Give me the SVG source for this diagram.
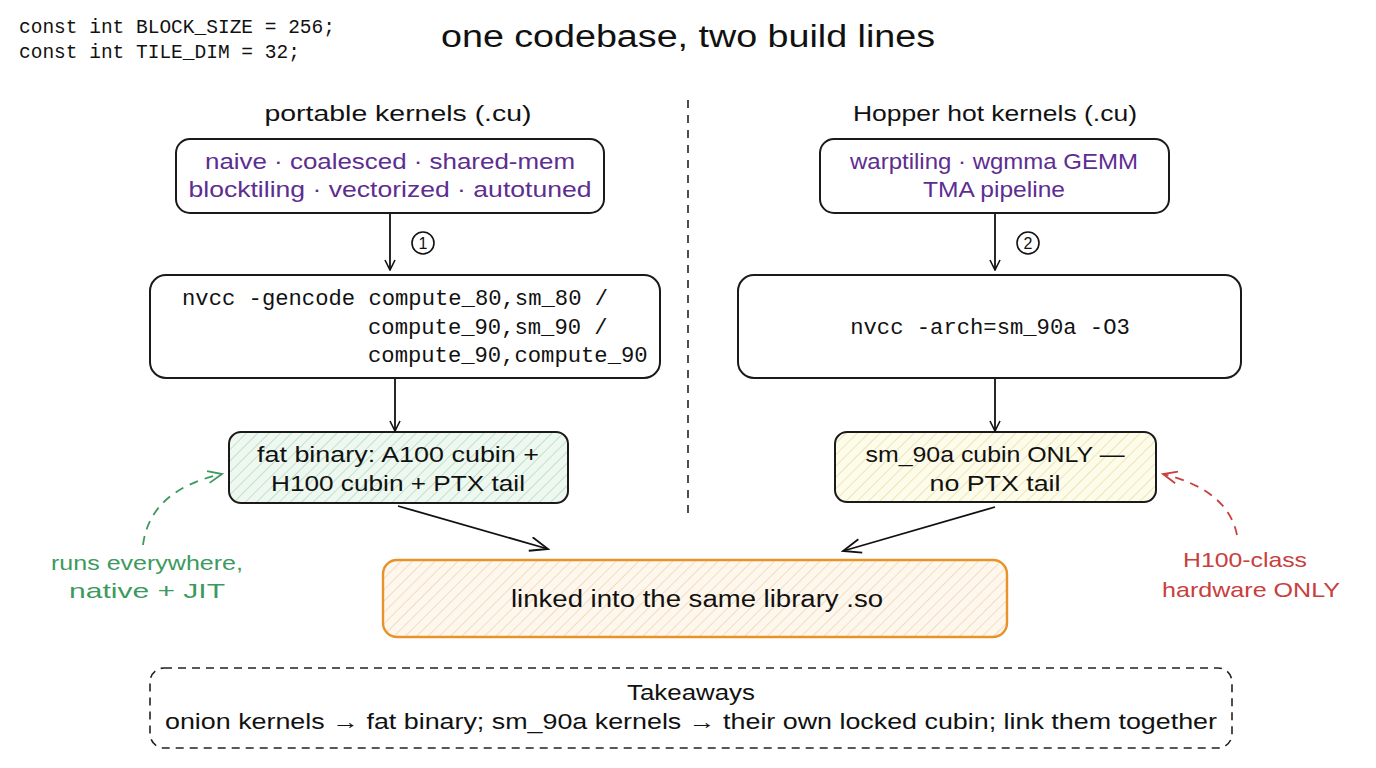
<svg xmlns="http://www.w3.org/2000/svg" width="1376" height="768" viewBox="0 0 1376 768">
<defs>
<pattern id="hGreen" patternUnits="userSpaceOnUse" width="8" height="8" patternTransform="rotate(45)">
<rect width="8" height="8" fill="#eef8f0"/><line x1="0" y1="0" x2="0" y2="8" stroke="#bfe3c8" stroke-width="2"/>
</pattern>
<pattern id="hYellow" patternUnits="userSpaceOnUse" width="8" height="8" patternTransform="rotate(45)">
<rect width="8" height="8" fill="#fdfbea"/><line x1="0" y1="0" x2="0" y2="8" stroke="#efe5b5" stroke-width="2"/>
</pattern>
<pattern id="hOrange" patternUnits="userSpaceOnUse" width="8" height="8" patternTransform="rotate(45)">
<rect width="8" height="8" fill="#fef7ee"/><line x1="0" y1="0" x2="0" y2="8" stroke="#f6dcbc" stroke-width="2"/>
</pattern>
<marker id="arr" viewBox="0 0 12 12" refX="11" refY="6" markerWidth="12" markerHeight="12" markerUnits="userSpaceOnUse" orient="auto">
<path d="M1,1 L11,6 L1,11" fill="none" stroke="#111" stroke-width="1.6"/>
</marker>
<marker id="arrW" viewBox="0 0 20 16" refX="19" refY="8" markerWidth="22" markerHeight="16" markerUnits="userSpaceOnUse" orient="auto">
<path d="M1,1 L19,8 L1,15" fill="none" stroke="#111" stroke-width="1.8"/>
</marker>
<marker id="arrG" viewBox="0 0 16 14" refX="15" refY="7" markerWidth="18" markerHeight="14" markerUnits="userSpaceOnUse" orient="auto">
<path d="M1,1 L15,7 L1,13" fill="none" stroke="#3c9a5f" stroke-width="1.8"/>
</marker>
<marker id="arrR" viewBox="0 0 16 14" refX="15" refY="7" markerWidth="18" markerHeight="14" markerUnits="userSpaceOnUse" orient="auto">
<path d="M1,1 L15,7 L1,13" fill="none" stroke="#c8403e" stroke-width="1.8"/>
</marker>
</defs>
<style>
.hand{font-family:"Liberation Sans","Noto Sans",sans-serif;}
.mono{font-family:"Liberation Mono","DejaVu Sans Mono",monospace;}
.box{fill:#fff;stroke:#1a1a1a;stroke-width:2;}
.purple{fill:#5e2d91;font-size:22px;}
.blk{fill:#111;}
.conn{fill:none;stroke:#111;stroke-width:1.8;}
</style>
<rect width="1376" height="768" fill="#fff"/>

<g id="code">
<text class="mono blk" x="19" y="33" font-size="19.5">const int BLOCK_SIZE = 256;</text>
<text class="mono blk" x="19" y="58" font-size="19.5">const int TILE_DIM = 32;</text>
</g>
<g id="title">
<text class="hand blk" x="688" y="47" font-size="31" text-anchor="middle" textLength="494" lengthAdjust="spacingAndGlyphs">one codebase, two build lines</text>
</g>
<g id="divider">
<line x1="688" y1="100" x2="688" y2="520" stroke="#222" stroke-width="1.6" stroke-dasharray="8 7"/>
</g>
<g id="hdr-left">
<text class="hand blk" x="398" y="121" font-size="22" text-anchor="middle" textLength="267" lengthAdjust="spacingAndGlyphs">portable kernels (.cu)</text>
</g>
<g id="hdr-right">
<text class="hand blk" x="995" y="121" font-size="22" text-anchor="middle" textLength="284" lengthAdjust="spacingAndGlyphs">Hopper hot kernels (.cu)</text>
</g>

<g id="src-left">
<rect class="box" x="176" y="139" width="428" height="74" rx="14"/>
<text class="hand purple" x="390" y="169" text-anchor="middle" textLength="370" lengthAdjust="spacingAndGlyphs">naive · coalesced · shared-mem</text>
<text class="hand purple" x="390" y="197" text-anchor="middle" textLength="403" lengthAdjust="spacingAndGlyphs">blocktiling · vectorized · autotuned</text>
</g>
<g id="src-right">
<rect class="box" x="820" y="139" width="349" height="74" rx="14"/>
<text class="hand purple" x="994" y="169" text-anchor="middle" textLength="288" lengthAdjust="spacingAndGlyphs">warptiling · wgmma GEMM</text>
<text class="hand purple" x="994" y="197" text-anchor="middle" textLength="142" lengthAdjust="spacingAndGlyphs">TMA pipeline</text>
</g>

<g id="nvcc-left">
<rect class="box" x="150" y="275" width="510" height="103" rx="16"/>
<text class="mono blk" x="182" y="305" font-size="22.2">nvcc -gencode compute_80,sm_80 /</text>
<text class="mono blk" x="368" y="334" font-size="22.2">compute_90,sm_90 /</text>
<text class="mono blk" x="368" y="362" font-size="22.2">compute_90,compute_90</text>
</g>
<g id="nvcc-right">
<rect class="box" x="738" y="275" width="503" height="103" rx="16"/>
<text class="mono blk" x="990" y="334" font-size="22.2" text-anchor="middle">nvcc -arch=sm_90a -O3</text>
</g>

<g id="fat-binary">
<rect x="229" y="432" width="339" height="71" rx="12" fill="url(#hGreen)" stroke="#1a1a1a" stroke-width="2"/>
<text class="hand blk" x="398" y="462" font-size="22" text-anchor="middle" textLength="282" lengthAdjust="spacingAndGlyphs">fat binary: A100 cubin +</text>
<text class="hand blk" x="398" y="491" font-size="22" text-anchor="middle" textLength="254" lengthAdjust="spacingAndGlyphs">H100 cubin + PTX tail</text>
</g>
<g id="sm90a-cubin">
<rect x="835" y="432" width="321" height="70" rx="12" fill="url(#hYellow)" stroke="#1a1a1a" stroke-width="2"/>
<text class="hand blk" x="995" y="462" font-size="22" text-anchor="middle" textLength="259" lengthAdjust="spacingAndGlyphs">sm_90a cubin ONLY —</text>
<text class="hand blk" x="995" y="491" font-size="22" text-anchor="middle" textLength="131" lengthAdjust="spacingAndGlyphs">no PTX tail</text>
</g>
<g id="library">
<rect x="383" y="560" width="624" height="77" rx="14" fill="url(#hOrange)" stroke="#e8922a" stroke-width="2.4"/>
<text class="hand blk" x="697" y="607" font-size="23" text-anchor="middle" textLength="372" lengthAdjust="spacingAndGlyphs">linked into the same library .so</text>
</g>

<g id="note-green">
<text class="hand" fill="#3c9a5f" x="147" y="570" font-size="21" text-anchor="middle" textLength="192" lengthAdjust="spacingAndGlyphs">runs everywhere,</text>
<text class="hand" fill="#3c9a5f" x="147" y="598" font-size="21" text-anchor="middle" textLength="156" lengthAdjust="spacingAndGlyphs">native + JIT</text>
</g>
<g id="note-red">
<text class="hand" fill="#c8403e" x="1245" y="567" font-size="21" text-anchor="middle" textLength="124" lengthAdjust="spacingAndGlyphs">H100-class</text>
<text class="hand" fill="#c8403e" x="1251" y="597" font-size="21" text-anchor="middle" textLength="178" lengthAdjust="spacingAndGlyphs">hardware ONLY</text>
</g>

<g id="takeaways">
<rect x="150" y="668" width="1082" height="80" rx="14" fill="none" stroke="#222" stroke-width="1.6" stroke-dasharray="8 6"/>
<text class="hand blk" x="691" y="700" font-size="22" text-anchor="middle" textLength="128" lengthAdjust="spacingAndGlyphs">Takeaways</text>
<text class="hand blk" x="691" y="729" font-size="22" text-anchor="middle" textLength="1052" lengthAdjust="spacingAndGlyphs">onion kernels → fat binary; sm_90a kernels → their own locked cubin; link them together</text>
</g>

<g id="connectors">
<line class="conn" x1="390" y1="214" x2="390" y2="270" marker-end="url(#arr)"/>
<line class="conn" x1="995" y1="214" x2="995" y2="270" marker-end="url(#arr)"/>
<line class="conn" x1="395" y1="379" x2="395" y2="431" marker-end="url(#arr)"/>
<line class="conn" x1="995" y1="379" x2="995" y2="431" marker-end="url(#arr)"/>
<line class="conn" x1="398" y1="506" x2="548" y2="549" marker-end="url(#arrW)"/>
<line class="conn" x1="995" y1="507" x2="843" y2="551" marker-end="url(#arrW)"/>
<path d="M143,545 Q150,490 222,474" fill="none" stroke="#3c9a5f" stroke-width="1.8" stroke-dasharray="9 7" marker-end="url(#arrG)"/>
<path d="M1237,535 Q1228,490 1163,474" fill="none" stroke="#c8403e" stroke-width="1.8" stroke-dasharray="9 7" marker-end="url(#arrR)"/>
<g id="step1">
<circle cx="423" cy="243" r="11" fill="none" stroke="#111" stroke-width="1.6"/>
<text class="hand blk" x="423" y="249" font-size="16" text-anchor="middle">1</text>
</g>
<g id="step2">
<circle cx="1028" cy="243" r="11" fill="none" stroke="#111" stroke-width="1.6"/>
<text class="hand blk" x="1028" y="249" font-size="16" text-anchor="middle">2</text>
</g>
</g>
</svg>
